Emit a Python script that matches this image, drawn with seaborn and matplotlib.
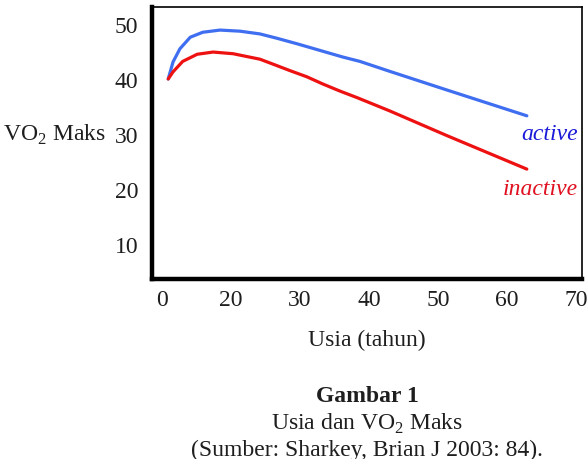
import pandas as pd
import matplotlib.pyplot as plt
import seaborn as sns

# x is the position along the axis (ticks are evenly spaced, labels are not)
x_active = [0.09, 0.16, 0.26, 0.41, 0.59, 0.84, 1.13, 1.42, 1.67, 1.96, 2.62, 2.87, 3.30, 4.13, 5.29]
vo2_active = [40.0, 43.1, 45.5, 47.6, 48.5, 48.9, 48.7, 48.2, 47.4, 46.4, 44.0, 43.2, 41.4, 38.0, 33.3]
x_inactive = [0.09, 0.16, 0.30, 0.51, 0.74, 1.03, 1.42, 1.61, 1.86, 2.10, 2.33, 2.58, 2.83, 3.30, 4.13, 5.29]
vo2_inactive = [40.0, 41.3, 43.2, 44.5, 44.9, 44.6, 43.6, 42.7, 41.5, 40.4, 39.1, 37.8, 36.6, 34.2, 29.7, 23.6]

x_ticklabels = ["0", "20", "30", "40", "50", "60", "70"]
y_ticks = [10, 20, 30, 40, 50]

df = pd.DataFrame({
    "pos": x_active + x_inactive,
    "vo2": vo2_active + vo2_inactive,
    "group": ["active"] * len(x_active) + ["inactive"] * len(x_inactive),
})

sns.set_style("white")
plt.rcParams["font.family"] = ["Liberation Serif", "DejaVu Serif"]
plt.rcParams["mathtext.fontset"] = "custom"
plt.rcParams["mathtext.rm"] = "Liberation Serif"
plt.rcParams["text.color"] = "#1e1e1e"
plt.rcParams["xtick.color"] = "#1e1e1e"
plt.rcParams["ytick.color"] = "#1e1e1e"

fs = 17

fig = plt.figure(figsize=(5.87, 4.6), dpi=100)
ax = fig.add_axes([152 / 587, 1 - 280 / 460, 430 / 587, 272 / 460])

sns.lineplot(data=df, x="pos", y="vo2", hue="group",
             palette={"active": "#3f6ef0", "inactive": "#ee1111"},
             linewidth=2.3, legend=False, sort=False, ax=ax)

ax.set_xlim(-0.145, 6.09)
ax.set_ylim(3.6, 53.1)
ax.set_xticks(range(len(x_ticklabels)))
ax.set_xticklabels(x_ticklabels)
ax.set_yticks(y_ticks)
ax.tick_params(length=0, labelsize=fs)
ax.tick_params(axis="y", pad=10)
ax.tick_params(axis="x", pad=7)
ax.set_xlabel("")
ax.set_ylabel("")

for side in ["left", "bottom"]:
    ax.spines[side].set_linewidth(3.2)
    ax.spines[side].set_color("black")
for side in ["top", "right"]:
    ax.spines[side].set_linewidth(1.2)
    ax.spines[side].set_color("black")

ax.text(6.03, 30, "active", color="#1a1ad8", style="italic", fontsize=fs,
        ha="right", va="center")
ax.text(6.03, 20, "inactive", color="#e01020", style="italic", fontsize=fs,
        ha="right", va="center")

# y label sits left of the tick labels, horizontal
fig.text(3 / 587, 1 - 135 / 460, r"VO$_2$ Maks", fontsize=fs, ha="left", va="center")
cx = 367 / 587
fig.text(cx, 1 - 340 / 460, "Usia (tahun)", fontsize=fs, ha="center", va="center")
fig.text(cx, 1 - 397 / 460, "Gambar 1", fontsize=fs, weight="bold", ha="center", va="center")
fig.text(cx, 1 - 424 / 460, r"Usia dan VO$_2$ Maks", fontsize=fs, ha="center", va="center")
fig.text(cx, 1 - 450 / 460, "(Sumber: Sharkey, Brian J 2003: 84).", fontsize=fs,
         ha="center", va="center")

fig.savefig("out.png", dpi=100)
